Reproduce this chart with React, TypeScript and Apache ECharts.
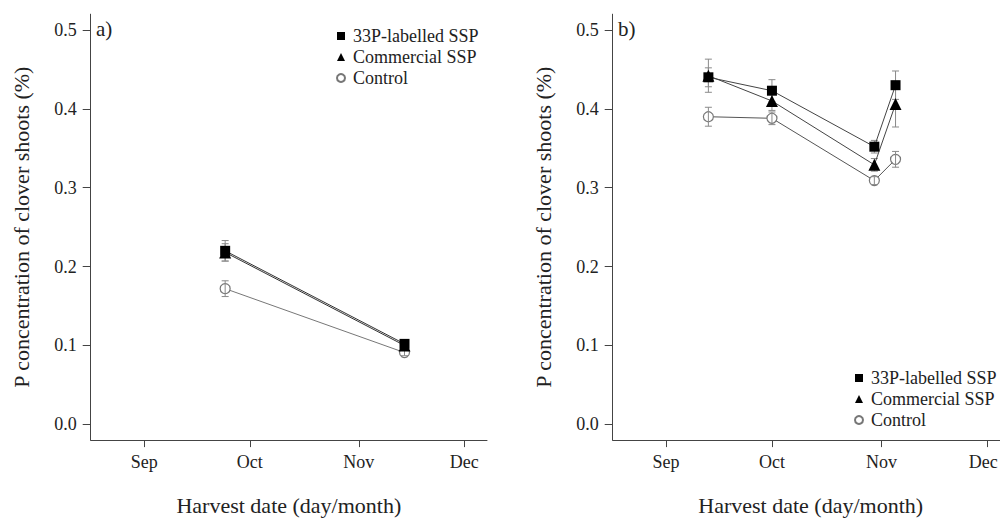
import React, { useEffect, useRef } from 'react';
import * as echarts from 'echarts';

// ---- data ----
const monthLabels = ['Sep', 'Oct', 'Nov', 'Dec'];
const monthTickDays = [244, 274, 305, 335]; // day of year of 1st of month
const yTickValues = [0, 0.1, 0.2, 0.3, 0.4, 0.5];
const seriesNames = ['33P-labelled SSP', 'Commercial SSP', 'Control'];

// Panel a)
const harvestDaysA = [267, 318];
const p33A = [0.22, 0.102];
const p33ErrA = [0.013, 0.004];
const commA = [0.218, 0.1];
const commErrA = [0.011, 0.004];
const ctrlA = [0.172, 0.091];
const ctrlErrA = [0.01, 0.004];

// Panel b)
const harvestDaysB = [256, 274, 303, 309];
const p33B = [0.44, 0.423, 0.352, 0.43];
const p33ErrB = [0.012, 0.014, 0.008, 0.018];
const commB = [0.442, 0.41, 0.329, 0.406];
const commErrB = [0.021, 0.012, 0.008, 0.029];
const ctrlB = [0.39, 0.388, 0.309, 0.336];
const ctrlErrB = [0.012, 0.008, 0.005, 0.01];

const FONT = "'Liberation Serif', 'Times New Roman', serif";
const TEXT = '#222';
const AXIS = '#444';

function errorSeries(idx: number, days: number[], vals: number[], errs: number[], z: number) {
  return {
    type: 'custom',
    xAxisIndex: idx,
    yAxisIndex: idx,
    silent: true,
    z,
    encode: { x: 0, y: [1, 2] },
    data: days.map((d, i) => [d, vals[i] - errs[i], vals[i] + errs[i]]),
    renderItem: (params: any, api: any) => {
      const x = api.value(0);
      const lo = api.coord([x, api.value(1)]);
      const hi = api.coord([x, api.value(2)]);
      const cw = 3.5;
      const style = { stroke: '#8a8a8a', lineWidth: 1 };
      return {
        type: 'group',
        children: [
          { type: 'line', shape: { x1: lo[0], y1: lo[1], x2: hi[0], y2: hi[1] }, style },
          { type: 'line', shape: { x1: lo[0] - cw, y1: lo[1], x2: lo[0] + cw, y2: lo[1] }, style },
          { type: 'line', shape: { x1: hi[0] - cw, y1: hi[1], x2: hi[0] + cw, y2: hi[1] }, style },
        ],
      };
    },
  };
}

function lineSeries(idx: number, name: string, days: number[], vals: number[], kind: number, z: number, lineColor: string) {
  const sym = kind === 0 ? 'rect' : kind === 1 ? 'triangle' : 'circle';
  const size = kind === 0 ? 10 : kind === 1 ? 12 : 10;
  return {
    type: 'line',
    name,
    xAxisIndex: idx,
    yAxisIndex: idx,
    z,
    data: days.map((d, i) => [d, vals[i]]),
    symbol: sym,
    symbolSize: size,
    showSymbol: true,
    itemStyle:
      kind === 2
        ? { color: '#fff', borderColor: '#777', borderWidth: 1.2 }
        : { color: '#000', borderColor: '#000', borderWidth: 0 },
    lineStyle: { color: lineColor, width: 1 },
    emphasis: { disabled: true },
  };
}

function xAxisFor(idx: number, min: number, max: number, nudgeLast: boolean) {
  return {
    type: 'value',
    gridIndex: idx,
    min,
    max,
    name: 'Harvest date (day/month)',
    nameLocation: 'middle',
    nameGap: 54,
    nameTextStyle: { fontFamily: FONT, fontSize: 22, color: TEXT },
    splitLine: { show: false },
    axisLine: { show: true, onZero: false, lineStyle: { color: AXIS, width: 1 } },
    axisTick: { show: true, customValues: monthTickDays, length: 7, lineStyle: { color: AXIS, width: 1 } },
    axisLabel: {
      customValues: monthTickDays,
      formatter: (v: number) => {
        const i = monthTickDays.indexOf(v);
        const s = monthLabels[i] ?? '';
        return nudgeLast && i === monthTickDays.length - 1 ? '{edge|' + s + '}' : s;
      },
      rich: {
        edge: { padding: [0, 8, 0, 0], fontFamily: FONT, fontSize: 18, color: TEXT },
      },
      margin: 13,
      fontFamily: FONT,
      fontSize: 18,
      color: TEXT,
    },
  };
}

function yAxisFor(idx: number) {
  return {
    type: 'value',
    gridIndex: idx,
    min: -0.02,
    max: 0.52,
    name: 'P concentration of clover shoots (%)',
    nameLocation: 'middle',
    nameGap: 58,
    nameTextStyle: { fontFamily: FONT, fontSize: 22, color: TEXT },
    splitLine: { show: false },
    axisLine: { show: true, onZero: false, lineStyle: { color: AXIS, width: 1 } },
    axisTick: { show: true, customValues: yTickValues, length: 8, lineStyle: { color: AXIS, width: 1 } },
    axisLabel: {
      customValues: yTickValues,
      formatter: (v: number) => v.toFixed(1),
      margin: 14,
      fontFamily: FONT,
      fontSize: 18,
      color: TEXT,
    },
  };
}

function legendAt(left: number, top: number) {
  return {
    left,
    top,
    orient: 'vertical',
    padding: 0,
    itemWidth: 8,
    itemHeight: 8,
    itemGap: 3,
    selectedMode: false,
    textStyle: { fontFamily: FONT, fontSize: 18, color: TEXT, padding: [0, 0, 0, 3] },
    data: [
      { name: seriesNames[0], icon: 'rect' },
      { name: seriesNames[1], icon: 'triangle' },
      { name: seriesNames[2], icon: 'circle' },
    ],
  };
}

export default function App() {
  const ref = useRef<HTMLDivElement>(null);
  useEffect(() => {
    if (!ref.current) return;
    const chart = echarts.init(ref.current, null, { renderer: 'svg' });
    chart.setOption({
      animation: false,
      backgroundColor: '#fff',
      grid: [
        { left: 90.7, top: 14.2, width: 396.3, height: 425.9, outerBoundsMode: 'none', containLabel: false },
        { left: 612.7, top: 14.2, width: 396, height: 425.9, outerBoundsMode: 'none', containLabel: false },
      ],
      xAxis: [xAxisFor(0, 228.76, 341.46, false), xAxisFor(1, 228.9, 341.05, true)],
      yAxis: [yAxisFor(0), yAxisFor(1)],
      legend: [legendAt(336, 27), legendAt(854, 369)],
      graphic: [
        { type: 'text', left: 96, top: 18, style: { text: 'a)', fontFamily: FONT, fontSize: 21, fill: TEXT } },
        { type: 'text', left: 618, top: 18, style: { text: 'b)', fontFamily: FONT, fontSize: 21, fill: TEXT } },
      ],
      series: [
        // panel a
        errorSeries(0, harvestDaysA, p33A, p33ErrA, 1),
        errorSeries(0, harvestDaysA, commA, commErrA, 1),
        lineSeries(0, seriesNames[2], harvestDaysA, ctrlA, 2, 2, '#777'),
        errorSeries(0, harvestDaysA, ctrlA, ctrlErrA, 3),
        lineSeries(0, seriesNames[1], harvestDaysA, commA, 1, 4, '#333'),
        lineSeries(0, seriesNames[0], harvestDaysA, p33A, 0, 5, '#333'),
        // panel b
        errorSeries(1, harvestDaysB, p33B, p33ErrB, 1),
        errorSeries(1, harvestDaysB, commB, commErrB, 1),
        lineSeries(1, seriesNames[2], harvestDaysB, ctrlB, 2, 2, '#555'),
        errorSeries(1, harvestDaysB, ctrlB, ctrlErrB, 3),
        lineSeries(1, seriesNames[1], harvestDaysB, commB, 1, 4, '#444'),
        lineSeries(1, seriesNames[0], harvestDaysB, p33B, 0, 5, '#444'),
      ],
    });
    return () => chart.dispose();
  }, []);
  return (
    <div
      ref={ref}
      style={{ position: 'fixed', left: 0, top: 0, width: 1000, height: 518, overflow: 'hidden' }}
    />
  );
}
